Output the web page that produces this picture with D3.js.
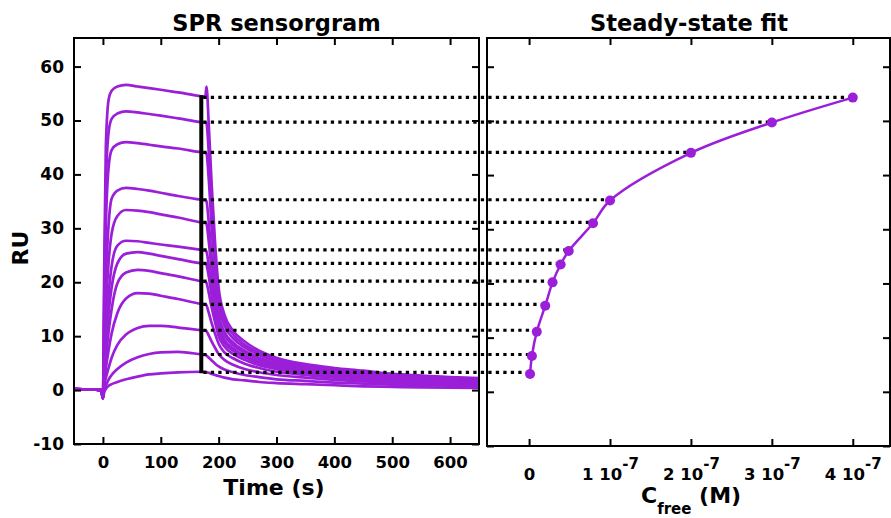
<!DOCTYPE html>
<html>
<head>
<meta charset="utf-8">
<script src="https://cdn.jsdelivr.net/npm/d3@7"></script>
<style>
  body { margin: 0; background: #fff; }
  text { font-family: "DejaVu Sans", sans-serif; font-weight: bold; fill: #000; }
</style>
</head>
<body>
<div id="chart"></div>
<script>
// sensorgram sample times (s)
const times = [-50, -3, 0, 2, 5, 10, 15, 25, 40, 60, 80, 100, 130, 170, 177, 179, 183, 188, 194, 200, 210, 225, 245, 270, 300, 350, 400, 450, 500, 550, 600, 650];

// RU, highest concentration first
const sensorgrams = [
  [0.2, 0, -1.5, 20, 45, 54, 55.5, 56.3, 56.6, 56.3, 56, 55.7, 55.2, 54.5, 54.4, 56.3, 49, 38, 27, 19, 14, 11, 9, 7.3, 6, 4.8, 4.1, 3.6, 3.0, 2.7, 2.4, 2.2],
  [0.2, 0, -1.5, 15, 38, 48, 50.3, 51.3, 51.7, 51.5, 51.2, 50.9, 50.4, 49.7, 49.6, 49.4, 44, 34, 24.5, 17.5, 13, 10.3, 8.4, 6.9, 5.7, 4.6, 3.9, 3.4, 2.9, 2.6, 2.3, 2.1],
  [0.2, 0, -1.5, 12, 30, 41.5, 44.5, 45.6, 46, 45.8, 45.5, 45.2, 44.8, 44.1, 44.0, 43.8, 39, 30, 22, 16, 12, 9.6, 7.9, 6.5, 5.4, 4.4, 3.7, 3.2, 2.7, 2.4, 2.1, 1.9],
  [0.2, 0, -1.5, 8, 20, 31, 35.5, 37, 37.5, 37.3, 37, 36.6, 36, 35.3, 35.2, 35.0, 31, 24.5, 18.5, 14, 10.8, 8.8, 7.3, 6.0, 5.0, 4.1, 3.4, 2.9, 2.5, 2.2, 1.9, 1.7],
  [0.2, 0, -1.5, 6, 15, 24, 29, 32.3, 33.4, 33.3, 33, 32.6, 32, 31.1, 31.0, 30.8, 27.5, 22, 17, 13, 10.2, 8.3, 6.9, 5.7, 4.7, 3.8, 3.2, 2.7, 2.3, 2.0, 1.8, 1.6],
  [0.2, 0, -1.5, 4, 10, 18, 23, 26.8, 27.7, 27.6, 27.3, 27, 26.6, 26.0, 25.9, 25.7, 23, 19, 15, 11.8, 9.3, 7.7, 6.4, 5.3, 4.4, 3.6, 3.0, 2.5, 2.2, 1.9, 1.7, 1.5],
  [0.2, 0, -1.5, 3, 8, 14.5, 19, 23.5, 25.3, 25.6, 25.3, 24.9, 24.3, 23.5, 23.4, 23.2, 21, 17.5, 14, 11, 8.8, 7.3, 6.1, 5.0, 4.2, 3.4, 2.8, 2.4, 2.0, 1.8, 1.6, 1.4],
  [0.2, 0, -1.5, 2.5, 6, 11, 15, 19.8, 21.8, 22.3, 22.1, 21.7, 21.1, 20.2, 20.1, 19.9, 18, 15.3, 12.5, 10, 8.1, 6.7, 5.6, 4.6, 3.9, 3.1, 2.6, 2.2, 1.9, 1.6, 1.4, 1.3],
  [0.2, 0, -1.5, 1.5, 4, 7.5, 10.5, 14.3, 17, 18, 17.9, 17.5, 16.9, 16.0, 15.9, 15.7, 14.3, 12.4, 10.4, 8.6, 7.0, 5.9, 4.9, 4.1, 3.4, 2.8, 2.3, 2.0, 1.7, 1.5, 1.3, 1.2],
  [0.2, 0, -1.5, 0.8, 2.2, 4.2, 6, 8.4, 10.3, 11.5, 11.9, 11.9, 11.6, 11.1, 11.0, 10.9, 10.1, 9.0, 7.8, 6.7, 5.6, 4.7, 3.9, 3.3, 2.8, 2.3, 1.9, 1.6, 1.4, 1.2, 1.1, 1.0],
  [0.2, 0, -1.5, 0, 0.8, 2, 2.8, 3.9, 5.1, 6.1, 6.7, 7.0, 7.1, 6.6, 6.5, 6.4, 6.0, 5.5, 4.9, 4.4, 3.8, 3.3, 2.8, 2.4, 2.0, 1.7, 1.4, 1.2, 1.0, 0.9, 0.8, 0.7],
  [0.2, 0, -1.5, -0.5, 0.2, 0.8, 1.1, 1.5, 2.0, 2.5, 2.9, 3.1, 3.3, 3.4, 3.4, 3.3, 3.2, 3.0, 2.8, 2.6, 2.3, 2.0, 1.8, 1.5, 1.3, 1.1, 0.9, 0.7, 0.6, 0.5, 0.45, 0.4]
];

// steady-state points
const concFree = [0.012e-7, 0.035e-7, 0.095e-7, 0.2e-7, 0.29e-7, 0.39e-7, 0.49e-7, 0.79e-7, 1.0e-7, 2.0e-7, 3.0e-7, 4.0e-7];
const ruSteady = [3.3, 6.6, 11.1, 15.9, 20.2, 23.5, 26.0, 31.1, 35.3, 44.1, 49.7, 54.3];
const readTime = 170;

const timeTicks = [0, 100, 200, 300, 400, 500, 600];
const ruTicks = [-10, 0, 10, 20, 30, 40, 50, 60];
const concTicks = [0, 1e-7, 2e-7, 3e-7, 4e-7];
const concTickLabels = [["0", ""], ["1 10", "-7"], ["2 10", "-7"], ["3 10", "-7"], ["4 10", "-7"]];

const width = 891, height = 518;
const purple = "#9b1fd8";

const svg = d3.select("#chart").append("svg")
    .attr("width", width)
    .attr("height", height);

const left = { x0: 74, x1: 479, y0: 38, y1: 444 };
const right = { x0: 487, x1: 890, y0: 38, y1: 446 };

const xL = d3.scaleLinear().domain([-50, 650]).range([left.x0, left.x1]);
const yL = d3.scaleLinear().domain([-10, 65.3]).range([left.y1, left.y0]);
const xR = d3.scaleLinear().domain([-0.52e-7, 4.46e-7]).range([right.x0, right.x1]);
const yR = d3.scaleLinear().domain([-10, 65.3]).range([right.y1, right.y0]);

function frameAxes(p, x, y, xTicks) {
    const g = svg.append("g");
    const bottom = g.append("g").attr("transform", `translate(0,${p.y1})`)
        .call(d3.axisBottom(x).tickValues(xTicks).tickSize(-7).tickSizeOuter(0));
    g.append("g").attr("transform", `translate(0,${p.y0})`)
        .call(d3.axisTop(x).tickValues(xTicks).tickSize(-7).tickSizeOuter(0).tickFormat(() => ""));
    const leftAx = g.append("g").attr("transform", `translate(${p.x0},0)`)
        .call(d3.axisLeft(y).tickValues(ruTicks).tickSize(-7).tickSizeOuter(0));
    g.append("g").attr("transform", `translate(${p.x1},0)`)
        .call(d3.axisRight(y).tickValues(ruTicks).tickSize(-7).tickSizeOuter(0).tickFormat(() => ""));
    g.selectAll(".domain").remove();
    g.selectAll(".tick line").attr("stroke", "#000").attr("stroke-width", 2);
    g.append("rect")
        .attr("x", p.x0).attr("y", p.y0)
        .attr("width", p.x1 - p.x0).attr("height", p.y1 - p.y0)
        .attr("fill", "none").attr("stroke", "#000").attr("stroke-width", 2);
    return { bottom, leftAx };
}

// ---- left panel: sensorgram ----
svg.append("defs").append("clipPath").attr("id", "clipL")
    .append("rect")
    .attr("x", left.x0).attr("y", left.y0)
    .attr("width", left.x1 - left.x0).attr("height", left.y1 - left.y0);

const line = d3.line()
    .x((d, i) => xL(times[i]))
    .y(d => yL(d))
    .curve(d3.curveMonotoneX);

svg.append("g").attr("clip-path", "url(#clipL)")
    .selectAll("path")
    .data(sensorgrams)
    .join("path")
    .attr("d", line)
    .attr("fill", "none")
    .attr("stroke", purple)
    .attr("stroke-width", 2.7)
    .attr("stroke-linejoin", "round");

// vertical read-out line
svg.append("line")
    .attr("x1", xL(readTime)).attr("x2", xL(readTime))
    .attr("y1", yL(d3.max(ruSteady)) - 2).attr("y2", yL(d3.min(ruSteady)) + 1)
    .attr("stroke", "#000").attr("stroke-width", 4);

// dotted links from sensorgram to steady-state points
svg.append("g")
    .selectAll("line")
    .data(ruSteady)
    .join("line")
    .attr("x1", xL(readTime) + 2)
    .attr("x2", (d, i) => xR(concFree[i]) - 4)
    .attr("y1", d => yL(d))
    .attr("y2", d => yL(d))
    .attr("stroke", "#000")
    .attr("stroke-width", 3.2)
    .attr("stroke-dasharray", "3.3 4.2");

const axL = frameAxes(left, xL, yL, timeTicks);
axL.bottom.selectAll("text")
    .text(d => String(d))
    .attr("font-size", 16.5).attr("y", 12).attr("font-family", null);
axL.leftAx.selectAll("text")
    .text(d => String(d))
    .attr("font-size", 17).attr("x", -10).attr("font-family", null);

svg.append("text")
    .attr("x", 276.5).attr("y", 31)
    .attr("text-anchor", "middle").attr("font-size", 22.5)
    .text("SPR sensorgram");

svg.append("text")
    .attr("x", 274).attr("y", 495)
    .attr("text-anchor", "middle").attr("font-size", 22)
    .text("Time (s)");

svg.append("text")
    .attr("transform", "translate(28,248) rotate(-90)")
    .attr("text-anchor", "middle").attr("font-size", 22)
    .text("RU");

// ---- right panel: steady-state fit ----
const axR = frameAxes(right, xR, yR, concTicks);
axR.leftAx.selectAll("text").remove();
axR.bottom.selectAll("text").remove();
axR.bottom.selectAll(".tick")
    .append("text")
    .attr("y", 34)
    .attr("text-anchor", "middle")
    .attr("font-size", 16.5)
    .each(function (d, i) {
        const t = d3.select(this);
        t.append("tspan").text(concTickLabels[i][0]);
        if (concTickLabels[i][1]) {
            t.append("tspan").attr("dy", -11).attr("font-size", 15).text(concTickLabels[i][1]);
        }
    });

const fit = d3.line()
    .x((d, i) => xR(concFree[i]))
    .y(d => yR(d))
    .curve(d3.curveCatmullRom.alpha(0.5));

svg.append("path")
    .attr("d", fit(ruSteady))
    .attr("fill", "none")
    .attr("stroke", purple)
    .attr("stroke-width", 2.5);

svg.append("g")
    .selectAll("circle")
    .data(ruSteady)
    .join("circle")
    .attr("cx", (d, i) => xR(concFree[i]))
    .attr("cy", d => yR(d))
    .attr("r", 5)
    .attr("fill", purple);

svg.append("text")
    .attr("x", 689).attr("y", 31)
    .attr("text-anchor", "middle").attr("font-size", 22.5)
    .text("Steady-state fit");

const cLabel = svg.append("text")
    .attr("x", 641).attr("y", 503)
    .attr("font-size", 22);
cLabel.append("tspan").text("C");
cLabel.append("tspan").attr("font-size", 15).attr("dy", 11).text("free");
cLabel.append("tspan").attr("dy", -11).text(" (M)");
</script>
</body>
</html>
